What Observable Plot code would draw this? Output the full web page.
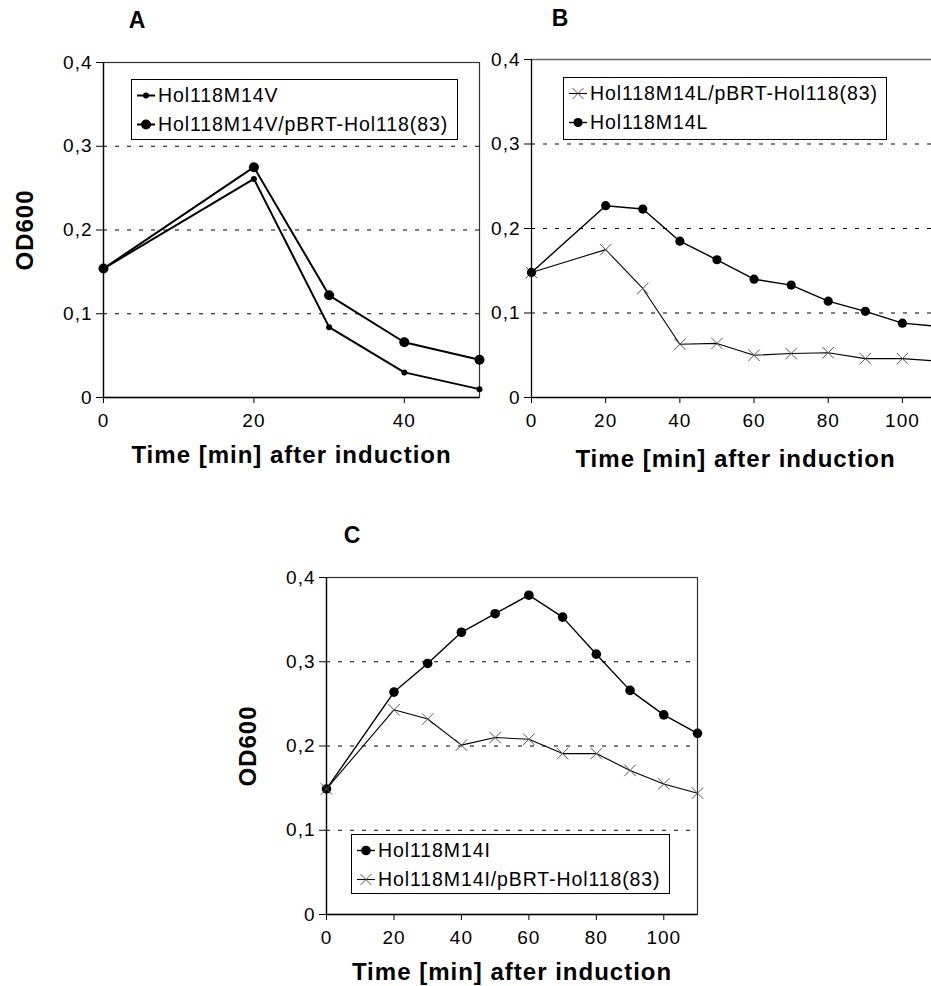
<!DOCTYPE html>
<html>
<head>
<meta charset="utf-8">
<script src="https://cdn.jsdelivr.net/npm/d3@7"></script>
<script src="https://cdn.jsdelivr.net/npm/@observablehq/plot@0.6"></script>
<style>
  html, body { margin: 0; padding: 0; background: #fff; }
  #root { position: relative; width: 931px; height: 986px; overflow: hidden; font-family: "Liberation Sans", Arial, sans-serif; }
  .panel { position: absolute; }
  .panel svg { max-width: none !important; }
  .legend { position: absolute; box-sizing: border-box; border: 1px solid #000; background: #fff;
            font-size: 19.5px; letter-spacing: 0.9px; color: #000; padding-left: 5px; }
  .legend .row { display: flex; align-items: center; height: 29px; white-space: nowrap; }
  .legend .row:first-child { margin-top: 1px; }
  .legend svg { flex: none; }
</style>
</head>
<body>
<div id="root"></div>
<script>
// ---- data ----
const yTicks = [0, 0.1, 0.2, 0.3, 0.4];
const yTickLabels = ["0", "0,1", "0,2", "0,3", "0,4"];
const gridValues = [0.1, 0.2, 0.3];
const yTitle = "OD600";
const xTitle = "Time [min] after induction";

const timeA = [0, 20, 30, 40, 50];
const xTicksA = [0, 20, 40];
const odA_M14V = [0.154, 0.261, 0.084, 0.030, 0.010];
const odA_M14V_pBRT = [0.154, 0.275, 0.122, 0.066, 0.045];

const timeB = [0, 20, 30, 40, 50, 60, 70, 80, 90, 100, 110];
const xTicksB = [0, 20, 40, 60, 80, 100];
const odB_M14L_pBRT = [0.148, 0.175, 0.129, 0.063, 0.064, 0.050, 0.052, 0.053, 0.046, 0.046, 0.043];
const odB_M14L = [0.148, 0.227, 0.223, 0.185, 0.163, 0.140, 0.133, 0.114, 0.102, 0.088, 0.084];

const timeC = [0, 20, 30, 40, 50, 60, 70, 80, 90, 100, 110];
const xTicksC = [0, 20, 40, 60, 80, 100];
const odC_M14I = [0.149, 0.264, 0.298, 0.335, 0.357, 0.379, 0.353, 0.309, 0.266, 0.237, 0.215];
const odC_M14I_pBRT = [0.149, 0.243, 0.232, 0.201, 0.210, 0.208, 0.191, 0.191, 0.171, 0.155, 0.144];

// ---- panel definitions (layout / styling) ----
const panels = [
  {
    letter: "A", left: 0, top: 0, width: 490, height: 480,
    margin: {left: 103, right: 11, top: 62, bottom: 83},
    time: timeA, xDomain: [0, 50], xTicks: xTicksA, fullFrame: true, yLabel: true,
    letterOffset: [34, -42], titleDy: 58,
    series: [
      {name: "Hol118M14V", values: odA_M14V, marker: "circle", r: 3, lw: 2},
      {name: "Hol118M14V/pBRT-Hol118(83)", values: odA_M14V_pBRT, marker: "circle", r: 5, lw: 2}
    ],
    legendOrder: [0, 1],
    legendBox: {left: 131, top: 79, width: 327, height: 61}
  },
  {
    letter: "B", left: 490, top: 0, width: 460, height: 480,
    margin: {left: 41, right: 11, top: 59, bottom: 83},
    time: timeB, xDomain: [0, 110], xTicks: xTicksB, fullFrame: false, yLabel: false,
    letterOffset: [29, -41], titleDy: 62,
    series: [
      {name: "Hol118M14L/pBRT-Hol118(83)", values: odB_M14L_pBRT, marker: "times", r: 5.3, lw: 1.1},
      {name: "Hol118M14L", values: odB_M14L, marker: "circle", r: 4.6, lw: 1.4}
    ],
    legendOrder: [0, 1],
    legendBox: {left: 563, top: 77, width: 324, height: 63}
  },
  {
    letter: "C", left: 240, top: 500, width: 480, height: 486,
    margin: {left: 86, right: 23, top: 77, bottom: 72},
    time: timeC, xDomain: [0, 110], xTicks: xTicksC, fullFrame: true, yLabel: true,
    letterOffset: [26, -42], titleDy: 58,
    series: [
      {name: "Hol118M14I", values: odC_M14I, marker: "circle", r: 4.8, lw: 1.4},
      {name: "Hol118M14I/pBRT-Hol118(83)", values: odC_M14I_pBRT, marker: "times", r: 5.3, lw: 1.1}
    ],
    legendOrder: [0, 1],
    legendBox: {left: 351, top: 834, width: 319, height: 60}
  }
];

const root = document.getElementById("root");

function makePanel(p) {
  const marks = [];
  marks.push(Plot.ruleY(gridValues, {stroke: "#000", strokeWidth: 1, strokeDasharray: "4,8"}));
  if (p.fullFrame) marks.push(Plot.frame({stroke: "#333", strokeWidth: 1.2}));
  else marks.push(Plot.ruleY([yTicks[yTicks.length - 1]], {stroke: "#666", strokeWidth: 1.5}));
  marks.push(Plot.ruleX([p.xDomain[0]], {stroke: "#000", strokeWidth: 1.3}));
  marks.push(Plot.ruleY([yTicks[0]], {stroke: "#000", strokeWidth: 1.3}));
  for (const s of p.series) {
    const data = p.time.map((t, i) => ({t, v: s.values[i]}));
    marks.push(Plot.line(data, {x: "t", y: "v", stroke: "#000", strokeWidth: s.lw}));
    if (s.marker === "circle") {
      marks.push(Plot.dot(data, {x: "t", y: "v", r: s.r, fill: "#000", stroke: "none"}));
    } else {
      marks.push(Plot.dot(data, {x: "t", y: "v", r: s.r, symbol: "times", stroke: "#555", strokeWidth: 1}));
    }
  }
  marks.push(Plot.axisY(yTicks, {anchor: "left", tickSize: 7, tickPadding: 4, fontSize: 19, label: null,
    tickFormat: d => yTickLabels[yTicks.indexOf(d)]}));
  marks.push(Plot.axisX(p.xTicks, {anchor: "bottom", tickSize: 6, tickPadding: 10, fontSize: 19, label: null,
    tickFormat: d => String(d)}));
  marks.push(Plot.text([p.letter], {frameAnchor: "top-left", dx: p.letterOffset[0], dy: p.letterOffset[1],
    text: d => d, fontSize: 23, fontWeight: "bold", textAnchor: "middle", lineAnchor: "middle"}));
  marks.push(Plot.text([xTitle], {frameAnchor: "bottom", dy: p.titleDy, text: d => d,
    fontSize: 24, fontWeight: "bold", textAnchor: "middle", lineAnchor: "middle"}));
  if (p.yLabel) {
    marks.push(Plot.text([yTitle], {frameAnchor: "left", dx: -78, rotate: -90, text: d => d,
      fontSize: 24, fontWeight: "bold", textAnchor: "middle", lineAnchor: "middle"}));
  }
  const chart = Plot.plot({
    width: p.width, height: p.height,
    marginLeft: p.margin.left, marginRight: p.margin.right,
    marginTop: p.margin.top, marginBottom: p.margin.bottom,
    x: {domain: p.xDomain},
    y: {domain: [yTicks[0], yTicks[yTicks.length - 1]]},
    style: {fontFamily: "'Liberation Sans', Arial, sans-serif", letterSpacing: "1px", color: "#000",
            background: "transparent", overflow: "visible", maxWidth: "none"},
    marks
  });
  chart.style.maxWidth = "none";
  chart.style.width = p.width + "px";
  chart.style.height = p.height + "px";
  const wrap = document.createElement("div");
  wrap.className = "panel";
  wrap.style.left = p.left + "px";
  wrap.style.top = p.top + "px";
  wrap.style.width = p.width + "px";
  wrap.style.height = p.height + "px";
  wrap.appendChild(chart);
  root.appendChild(wrap);

  // legend box
  const lg = document.createElement("div");
  lg.className = "legend";
  Object.assign(lg.style, {left: p.legendBox.left + "px", top: p.legendBox.top + "px",
    width: p.legendBox.width + "px", height: p.legendBox.height + "px"});
  for (const idx of p.legendOrder) {
    const s = p.series[idx];
    const row = document.createElement("div");
    row.className = "row";
    const ns = "http://www.w3.org/2000/svg";
    const sw = document.createElementNS(ns, "svg");
    sw.setAttribute("width", 21); sw.setAttribute("height", 29);
    const ln = document.createElementNS(ns, "line");
    ln.setAttribute("x1", 0); ln.setAttribute("x2", 18); ln.setAttribute("y1", 14.5); ln.setAttribute("y2", 14.5);
    ln.setAttribute("stroke", "#000"); ln.setAttribute("stroke-width", s.lw);
    sw.appendChild(ln);
    if (s.marker === "circle") {
      const c = document.createElementNS(ns, "circle");
      c.setAttribute("cx", 9); c.setAttribute("cy", 14.5); c.setAttribute("r", s.r); c.setAttribute("fill", "#000");
      sw.appendChild(c);
    } else {
      const r = 5.5, cx = 9, cy = 14.5;
      const pth = document.createElementNS(ns, "path");
      pth.setAttribute("d", `M${cx - r},${cy - r}L${cx + r},${cy + r}M${cx - r},${cy + r}L${cx + r},${cy - r}`);
      pth.setAttribute("stroke", "#555"); pth.setAttribute("stroke-width", 1); pth.setAttribute("fill", "none");
      sw.appendChild(pth);
    }
    row.appendChild(sw);
    const tx = document.createElement("span");
    tx.textContent = s.name;
    row.appendChild(tx);
    lg.appendChild(row);
  }
  root.appendChild(lg);
}

panels.forEach(makePanel);
</script>
</body>
</html>
